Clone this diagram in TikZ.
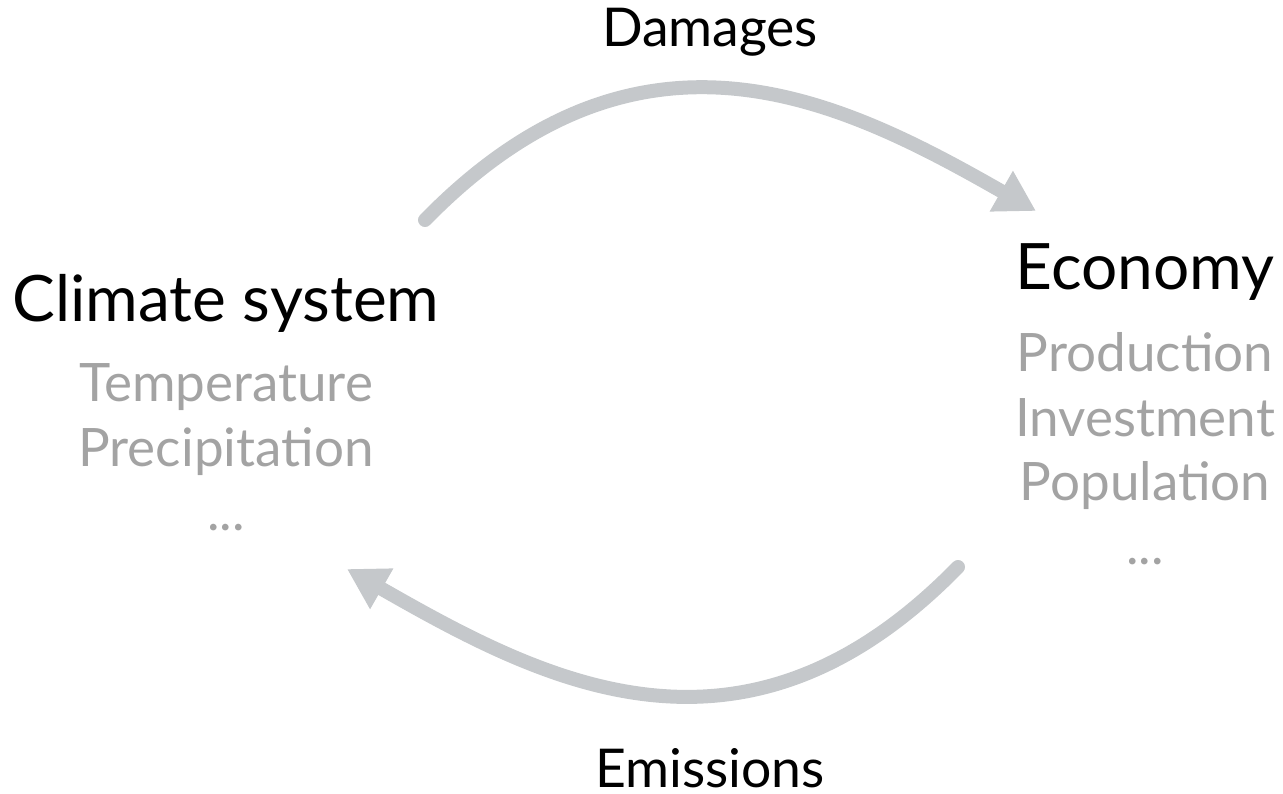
\documentclass[tikz,border=0pt]{standalone}
\usepackage{fontspec}
\setmainfont{Lato}
\usetikzlibrary{arrows.meta}
\definecolor{arrowgray}{HTML}{C5C8CB}
\definecolor{textgray}{HTML}{A3A3A3}
\tikzset{
  big/.style={anchor=base, inner sep=0pt, font=\fontsize{64}{76}\selectfont},
  mid/.style={anchor=base, inner sep=0pt, font=\fontsize{53.5}{64}\selectfont},
  sub/.style={anchor=base, inner sep=0pt, text=textgray, font=\fontsize{53}{64}\selectfont},
  flow/.style={draw=arrowgray, line width=14pt, line cap=round, -{Triangle[length=40pt,width=44pt]}}
}
\begin{document}
\begin{tikzpicture}[x=1pt,y=-1pt]
\useasboundingbox (0,0) rectangle (1283,794);
\node[mid] (dam) at (710,47) {Damages};
\node[mid, text depth=0pt] (emi) at (710,787) {Emissions};
\node[big] (cli) at (226,322) {Climate system};
\node[sub] (tem) at (226,402) {Temperature};
\node[sub] (pre) at (226,466) {Precipitation};
\node[sub] (cd) at (226,530) {...};
\node[big] (eco) at (1145,290) {Economy};
\node[sub] (pro) at (1145,372) {Production};
\node[sub] (inv) at (1145,436) {Investment};
\node[sub] (pop) at (1145,500) {Population};
\node[sub] (ed) at (1145,564) {...};
\coordinate (a1) at (425,220);
\coordinate (a2) at (1036,211);
\coordinate (b1) at (958,567);
\coordinate (b2) at (347,569);
\draw[flow] (a1) .. controls (640,0) and (840,99) .. (a2);
\draw[flow] (b1) .. controls (743,787) and (543,681) .. (b2);
\end{tikzpicture}
\end{document}
